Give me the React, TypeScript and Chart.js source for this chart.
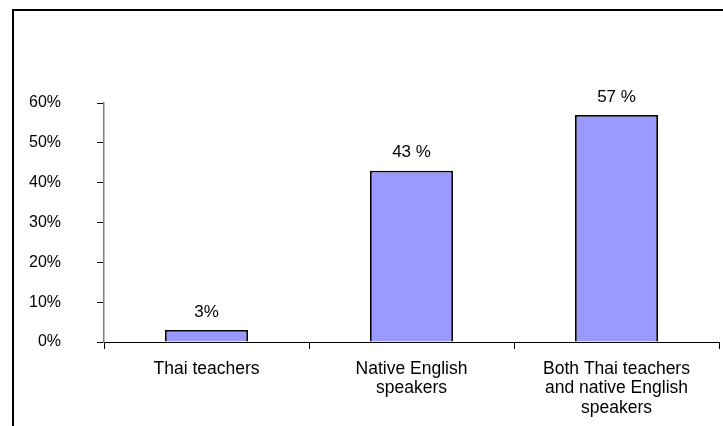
import React, { useEffect, useRef } from "react";
import { Chart, registerables } from "chart.js";

Chart.register(...registerables);

const categories: string[][] = [
  ["Thai teachers"],
  ["Native English", "speakers"],
  ["Both Thai teachers", "and native English", "speakers"],
];
const values: number[] = [3, 43, 57];
const valueLabels: string[] = ["3%", "43 %", "57 %"];
const yMin = 0;
const yMax = 60;
const yStep = 10;

const FONT = "'Liberation Sans', Arial, sans-serif";

export default function App() {
  const ref = useRef<HTMLCanvasElement | null>(null);

  useEffect(() => {
    if (!ref.current) return;
    const labelPlugin = {
      id: "valueLabels",
      afterDatasetsDraw(chart: any) {
        const ctx = chart.ctx;
        const meta = chart.getDatasetMeta(0);
        ctx.save();
        ctx.fillStyle = "#000";
        ctx.font = `17px ${FONT}`;
        ctx.textAlign = "center";
        ctx.textBaseline = "middle";
        meta.data.forEach((bar: any, i: number) => {
          ctx.fillText(valueLabels[i], bar.x, bar.y - 18);
        });
        ctx.restore();
      },
    };
    const framePlugin = {
      id: "frame",
      afterDraw(chart: any) {
        const ctx = chart.ctx;
        ctx.save();
        ctx.strokeStyle = "#000";
        ctx.lineWidth = 2;
        ctx.beginPath();
        ctx.moveTo(13, 426);
        ctx.lineTo(13, 10);
        ctx.lineTo(723, 10);
        ctx.stroke();
        ctx.restore();
      },
    };
    const chart = new Chart(ref.current, {
      type: "bar",
      data: {
        labels: categories,
        datasets: [
          {
            data: values,
            backgroundColor: "#9999FF",
            borderColor: "#000000",
            borderWidth: 1.8,
            categoryPercentage: 1,
            barPercentage: 0.405,
          },
        ],
      },
      options: {
        animation: false,
        responsive: false,
        maintainAspectRatio: false,
        layout: { padding: { top: 103, right: 4, left: 0, bottom: 0 } },
        plugins: {
          legend: { display: false },
          tooltip: { enabled: false },
        },
        scales: {
          x: {
            offset: true,
            grid: {
              offset: true,
              drawOnChartArea: false,
              drawTicks: true,
              tickLength: 7,
              color: "#000",
            },
            border: { display: true, color: "#000", width: 1 },
            ticks: {
              color: "#000",
              font: { family: FONT, size: 17.5, lineHeight: 1.12 },
              padding: 10,
              maxRotation: 0,
              autoSkip: false,
            },
            afterFit(scale: any) {
              scale.height = 84;
            },
          },
          y: {
            min: yMin,
            max: yMax,
            grid: {
              drawOnChartArea: false,
              drawTicks: true,
              tickLength: 7,
              color: "#000",
            },
            border: { display: true, color: "#808080", width: 1.5 },
            ticks: {
              stepSize: yStep,
              color: "#000",
              font: { family: FONT, size: 16 },
              padding: 36,
              callback: (v: any) => `${v}%`,
            },
            afterFit(scale: any) {
              scale.width = 104;
            },
          },
        },
      },
      plugins: [labelPlugin, framePlugin],
    });
    return () => chart.destroy();
  }, []);

  return (
    <div style={{ position: "absolute", left: 0, top: 0, width: 723, height: 426, background: "#fff" }}>
      <canvas ref={ref} width={723} height={426} style={{ display: "block" }} />
    </div>
  );
}
